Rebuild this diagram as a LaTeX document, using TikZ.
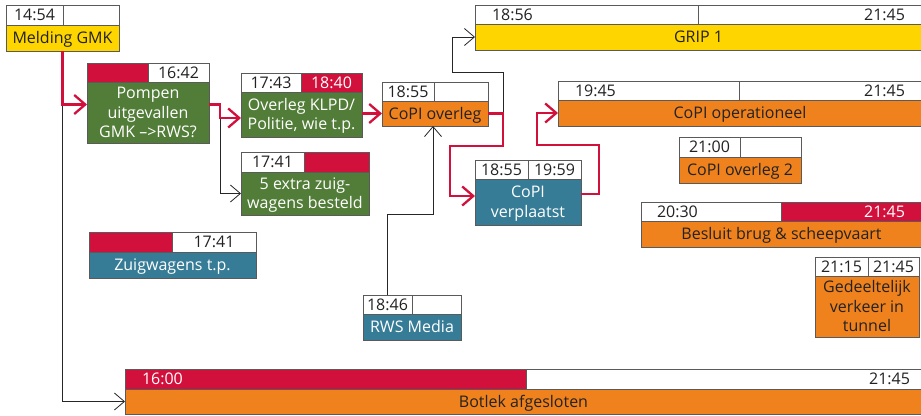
\documentclass[tikz,border=0pt]{standalone}
\usepackage{fontspec}
\setmainfont{Open Sans}
\usetikzlibrary{arrows.meta}
\definecolor{gyellow}{HTML}{FFD500}
\definecolor{gorange}{HTML}{F0821E}
\definecolor{ggreen}{HTML}{527D38}
\definecolor{gblue}{HTML}{367C96}
\definecolor{gred}{HTML}{D2103C}
\definecolor{frame}{HTML}{5A5A5A}
\definecolor{txtdark}{HTML}{222222}
\newcommand\fsz{\fontsize{16}{19.5}\selectfont}
\newcommand\rbox[6]{\node[box,#6,minimum width={#4-#2},minimum height={#5-#3}] (#1) at (#2,#3)}
\tikzset{
  box/.style={draw=frame, line width=0.9pt, inner sep=0pt, outer sep=0pt, anchor=north west,
    font=\fsz, text height=11.4pt, text depth=0pt},
  hw/.style={fill=white, text=txtdark},
  hr/.style={fill=gred, text=white},
  yb/.style={fill=gyellow, text=txtdark},
  ob/.style={fill=gorange, text=txtdark, align=center},
  gb/.style={fill=ggreen, text=white, align=center},
  bb/.style={fill=gblue, text=white, align=center},
  ml2/.style={text height=30.9pt},
  ml3/.style={text height=50.4pt},
  tl/.style={font=\fsz, inner sep=0pt, outer sep=0pt, text height=11.4pt, text depth=0pt, text=txtdark},
  redarrow/.style={draw=gred, line width=2.3pt, -{Straight Barb[length=11pt,width=19pt]}},
  blackarrow/.style={draw=black!85, line width=0.8pt, -{Straight Barb[length=10pt,width=17pt]}},
}
\begin{document}
\begin{tikzpicture}[x=1pt,y=-1pt]
\useasboundingbox (0,0) rectangle (921,415);
\fill[white] (0,0) rectangle (921,415);

% Melding GMK
\rbox{mh1}{6}{5}{63}{25}{hw}{14:54};
\rbox{mh2}{63}{5}{119}{25}{hw}{};
\rbox{meld}{6}{25}{119}{51}{yb}{Melding GMK};

% Pompen
\rbox{ph1}{87}{63}{148}{82}{hr}{};
\rbox{ph2}{148}{63}{209}{82}{hw}{16:42};
\rbox{pomp}{87}{82}{209}{143}{gb,ml3}{Pompen\\uitgevallen\\GMK –>RWS?};

% Overleg KLPD
\rbox{oh1}{241}{73}{301}{92}{hw}{17:43};
\rbox{oh2}{301}{73}{362}{92}{hr}{18:40};
\rbox{over}{241}{92}{362}{137}{gb,ml2}{Overleg KLPD/\\Politie, wie t.p.};

% 5 extra
\rbox{eh1}{241}{152}{304}{172}{hw}{17:41};
\rbox{eh2}{304}{152}{369}{172}{hr}{};
\rbox{extra}{241}{172}{369}{215}{gb,ml2}{5 extra zuig-\\wagens besteld};

% CoPI overleg
\rbox{ch1}{382}{82}{434}{101}{hw}{18:55};
\rbox{ch2}{434}{82}{488}{101}{hw}{};
\rbox{copi}{382}{101}{488}{126}{ob}{CoPI overleg};

% RWS Media
\rbox{rh1}{363}{295}{412}{314}{hw}{18:46};
\rbox{rh2}{412}{295}{461}{314}{hw}{};
\rbox{rws}{363}{314}{461}{340}{bb}{RWS Media};

% CoPI verplaatst
\rbox{vh1}{475}{160}{528}{179}{hw}{18:55};
\rbox{vh2}{528}{160}{581}{179}{hw}{19:59};
\rbox{verp}{475}{179}{581}{225}{bb,ml2}{CoPI\\verplaatst};

% GRIP 1
\rbox{gh1}{475}{5}{698}{24}{hw}{};
\rbox{gh2}{698}{5}{922}{24}{hw}{};
\rbox{grip}{475}{24}{922}{50}{yb}{GRIP 1};
\node[tl,anchor=west] (gt1) at ([xshift=17pt]gh1.west) {18:56};
\node[tl,anchor=east] (gt2) at ([xshift=-17pt]gh2.east) {21:45};

% CoPI operationeel
\rbox{oph1}{558}{81}{739}{100}{hw}{};
\rbox{oph2}{739}{81}{922}{100}{hw}{};
\rbox{copop}{558}{100}{922}{126}{ob}{CoPI operationeel};
\node[tl,anchor=west] (ot1) at ([xshift=17pt]oph1.west) {19:45};
\node[tl,anchor=east] (ot2) at ([xshift=-17pt]oph2.east) {21:45};

% CoPI overleg 2
\rbox{c2h1}{679}{137}{740}{157}{hw}{21:00};
\rbox{c2h2}{740}{137}{801}{157}{hw}{};
\rbox{copi2}{679}{157}{801}{183}{ob}{CoPI overleg 2};

% Besluit
\rbox{bh1}{641}{202}{781}{221}{hw}{};
\rbox{bh2}{781}{202}{922}{221}{hr}{};
\rbox{besl}{641}{221}{922}{247}{ob}{Besluit brug \& scheepvaart};
\node[tl,anchor=west] (bt1) at ([xshift=16pt]bh1.west) {20:30};
\node[tl,anchor=east,text=white] (bt2) at ([xshift=-17pt]bh2.east) {21:45};

% Gedeeltelijk
\rbox{gdh1}{815}{257}{868}{276}{hw}{21:15};
\rbox{gdh2}{868}{257}{919}{276}{hw}{21:45};
\rbox{gede}{815}{276}{919}{337}{ob,ml3}{Gedeeltelijk\\verkeer in\\tunnel};

% Zuigwagens
\rbox{zh1}{89}{232}{172}{252}{hr}{};
\rbox{zh2}{172}{232}{256}{252}{hw}{17:41};
\rbox{zuig}{89}{252}{256}{278}{bb}{Zuigwagens t.p.};

% Botlek
\rbox{bth1}{125}{369}{526}{389}{hr}{};
\rbox{bth2}{526}{369}{922}{389}{hw}{};
\rbox{botl}{125}{389}{922}{414}{ob}{Botlek afgesloten};
\node[tl,anchor=west,text=white] (lt1) at ([xshift=17pt]bth1.west) {16:00};
\node[tl,anchor=east] (lt2) at ([xshift=-12pt]bth2.east) {21:45};

% junction coordinates
\coordinate (j1) at (220,118);
\coordinate (c1) at (503,146);
\coordinate (c2) at (450,146);
\coordinate (c3) at (450,196);
\coordinate (d1) at (452,72);
\coordinate (e1) at (599,145);
\coordinate (e2) at (537,145);
\coordinate (f1) at (433,214);

% black connectors
\draw[blackarrow] ([yshift=8pt]pomp.west -| meld.south) |- (botl.west);
\draw[blackarrow] (j1) |- (extra.west);
\draw[blackarrow] (copi.east -| c1) |- (d1) |- (grip.west);
\draw[blackarrow] (rh1.north) |- (f1) -- (f1 |- copi.south);

% red connectors
\draw[redarrow] (meld.south) |- ([yshift=8pt]pomp.west);
\draw[redarrow] ([yshift=8pt]pomp.east) -| (j1) -- (j1 -| over.west);
\draw[redarrow] (over.east |- copi.west) -- (copi.west);
\draw[redarrow] (copi.east) -| (c1) -- (c2) -- (c3) -- (c3 -| verp.west);
\draw[redarrow] ([yshift=8pt]verp.east) -| (e1) -- (e2) |- (copop.west);
\end{tikzpicture}
\end{document}
